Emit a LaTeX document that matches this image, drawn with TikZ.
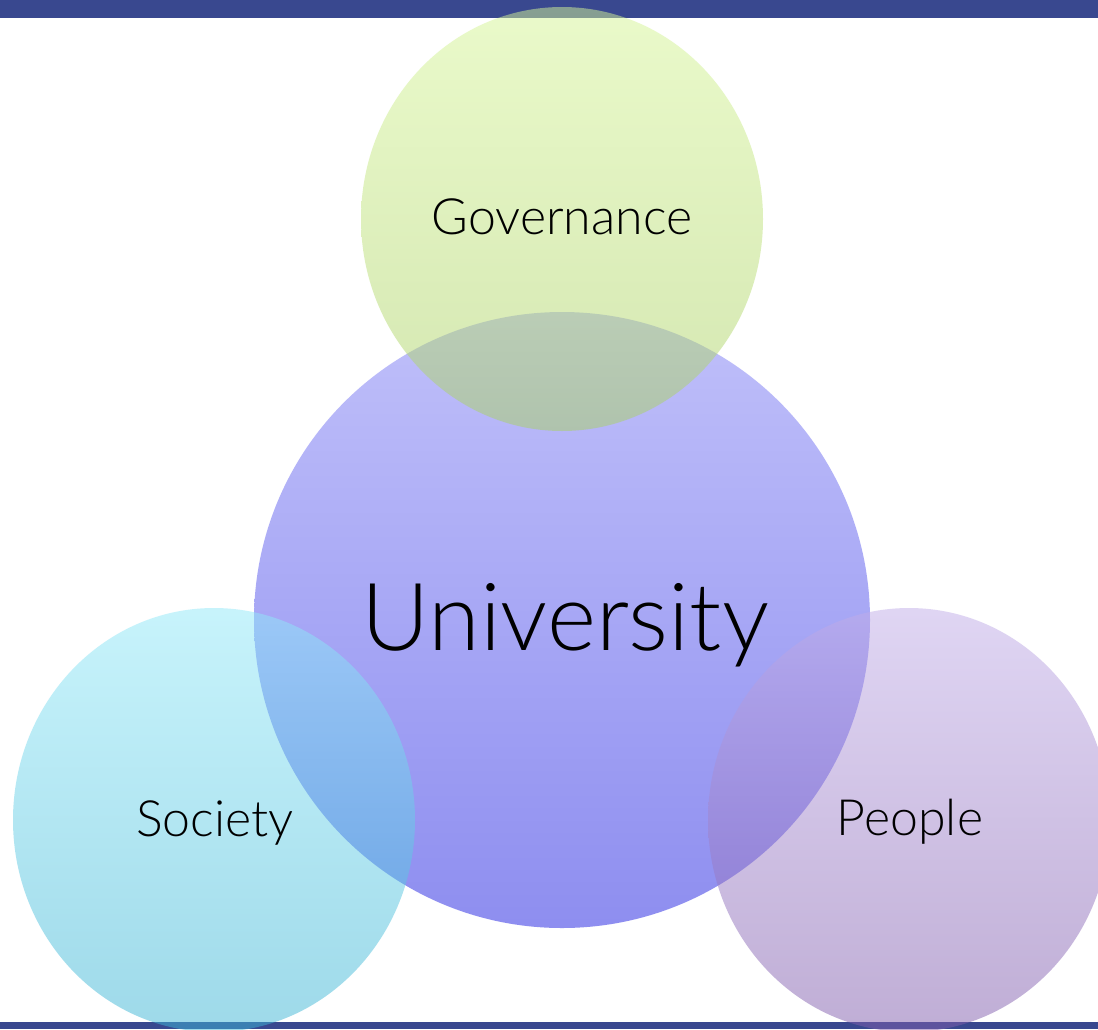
\documentclass[tikz,border=0pt]{standalone}
\usepackage{fontspec}
\setmainfont{Lato Light}
\begin{document}
\begin{tikzpicture}[x=1pt,y=-1pt,
  bubble/.style={fill opacity=0.5},
  lbl/.style={anchor=base, inner sep=0pt, text=black, font=\fontsize{50}{60}\selectfont},
  biglbl/.style={anchor=base, inner sep=0pt, text=black, font=\fontsize{94}{110}\selectfont}]
\definecolor{barblue}{RGB}{57,72,143}
\definecolor{govtop}{RGB}{214,246,150}
\definecolor{govbot}{RGB}{170,208,100}
\definecolor{unitop}{RGB}{130,130,246}
\definecolor{unibot}{RGB}{30,30,226}
\definecolor{soctop}{RGB}{145,233,249}
\definecolor{socbot}{RGB}{61,181,213}
\definecolor{peotop}{RGB}{193,173,233}
\definecolor{peobot}{RGB}{129,93,173}
\useasboundingbox (0,0) rectangle (1098,1029);
\fill[white] (0,0) rectangle (1098,1029);
\fill[barblue] (0,0) rectangle (1098,17.5) coordinate (topbar);
\fill[barblue] (0,1022) rectangle (1098,1029) coordinate (botbar);
\begin{scope}
\clip (0,0) rectangle (1098,1029);
\shade[bubble, top color=unitop, bottom color=unibot] (562,620) circle [radius=308];
\shade[bubble, top color=govtop, bottom color=govbot] (562,219) ellipse [x radius=201, y radius=212];
\shade[bubble, top color=peotop, bottom color=peobot] (909,820) ellipse [x radius=201, y radius=212];
\shade[bubble, top color=soctop, bottom color=socbot] (214,820) ellipse [x radius=201, y radius=212];
\end{scope}
\node[lbl] (gov) at (562,234) {Governance};
\node[biglbl] (uni) at (565,650) {University};
\node[lbl] (soc) at (215,836) {Society};
\node[lbl] (peo) at (910,835) {People};
\end{tikzpicture}
\end{document}
